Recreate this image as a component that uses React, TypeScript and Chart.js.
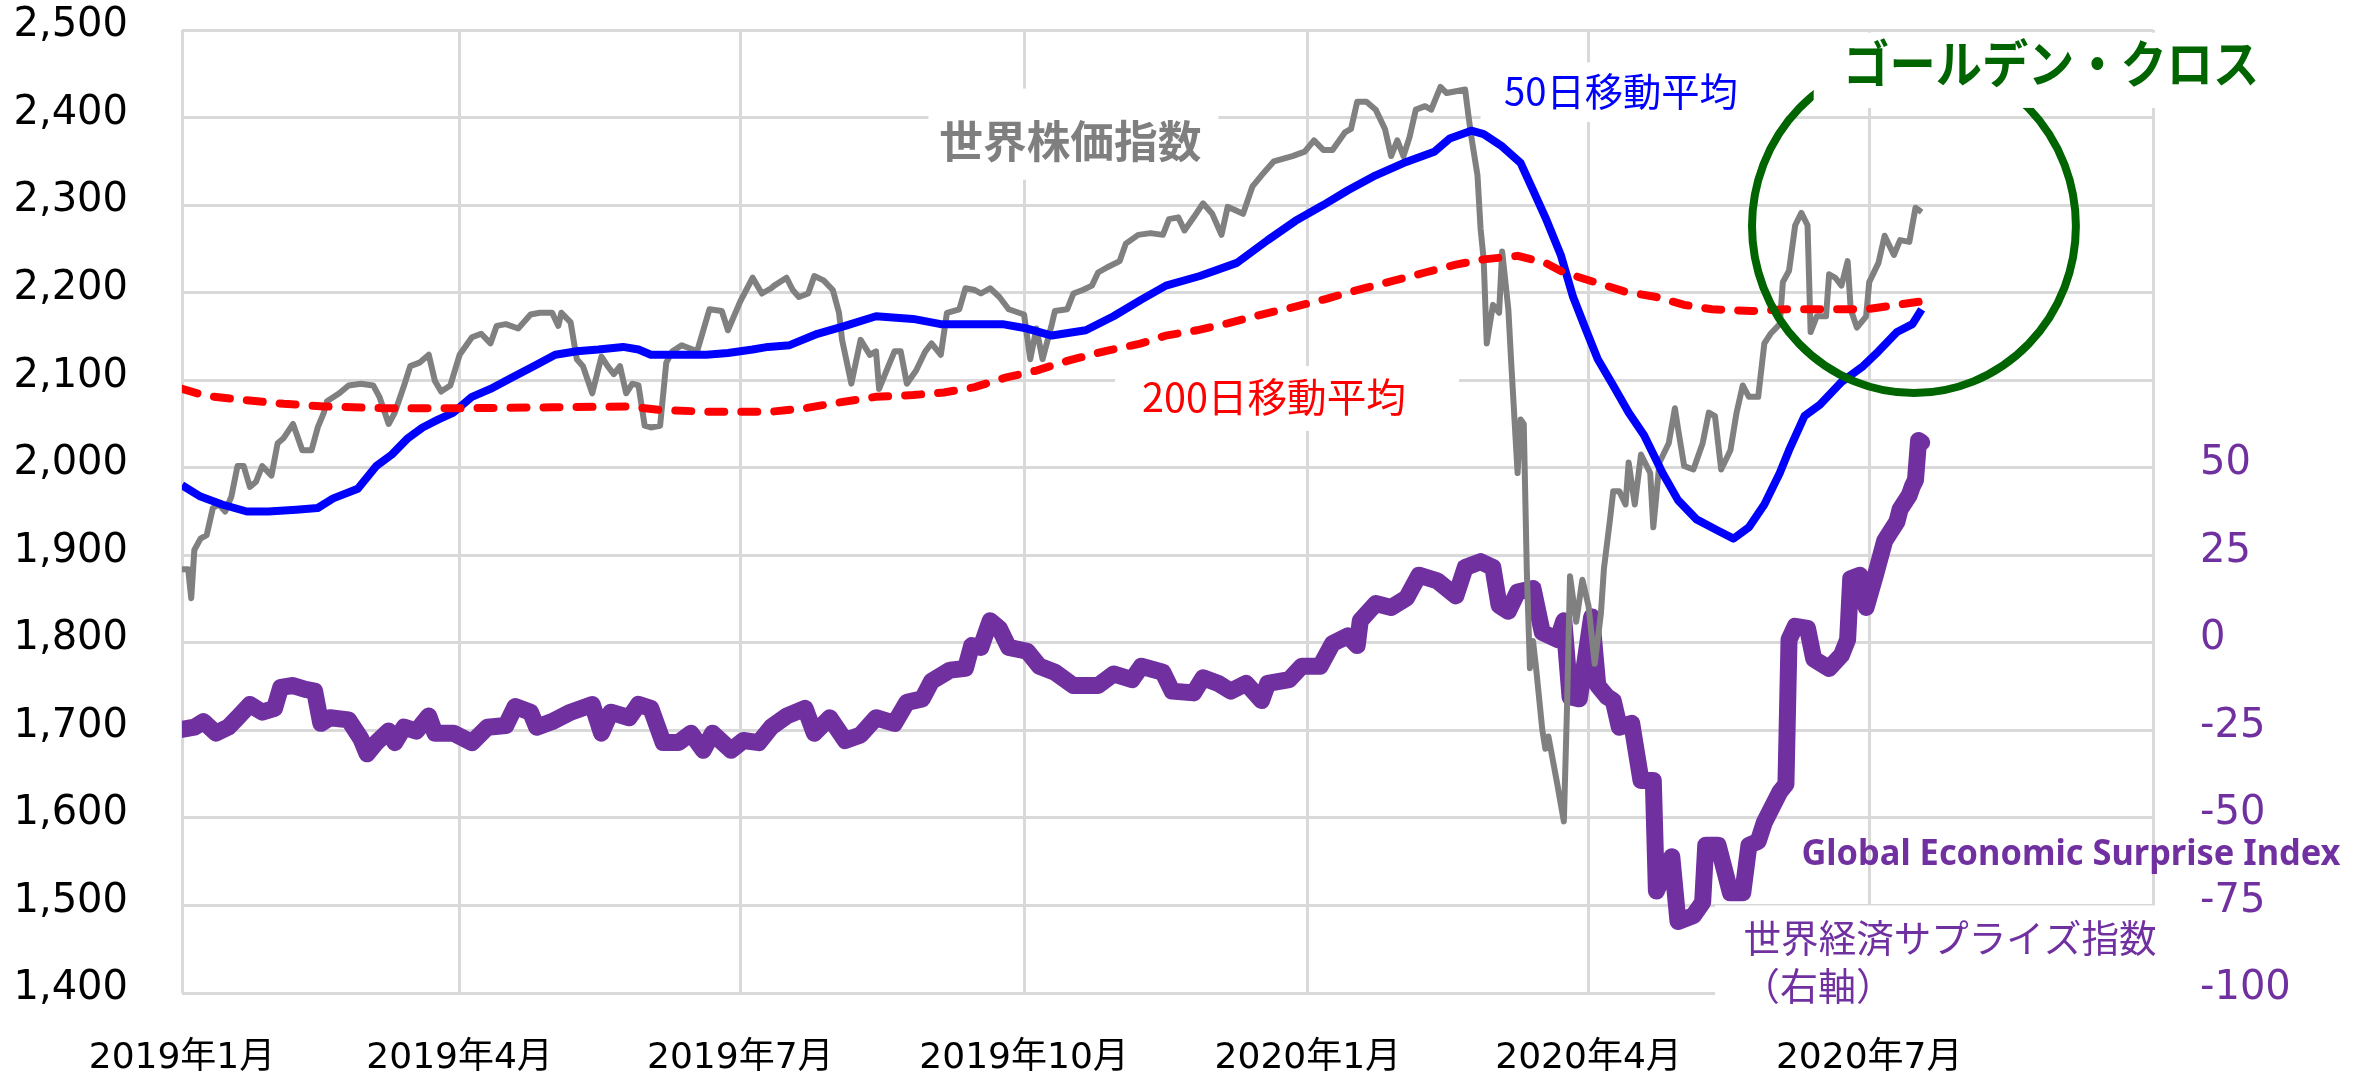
import React, { useEffect, useRef } from "react";
import { Chart, registerables } from "chart.js";

Chart.register(...registerables);

const WIDTH = 2369;
const HEIGHT = 1074;

// x axis: days since 2019-01-01
const monthTickDays = [0, 90, 181, 273, 365, 456, 547, 639];
const monthTickLabels = ["2019年1月", "2019年4月", "2019年7月", "2019年10月", "2020年1月", "2020年4月", "2020年7月", ""];
const xMin = 0;
const xMax = 639;

const leftMin = 1400;
const leftMax = 2500;
const leftStep = 100;
const rightMin = -100;
const rightMax = 175;
const rightTickValues = [-100, -75, -50, -25, 0, 25, 50];

// 世界株価指数
const stockDays = [
  0, 2, 3, 4, 6, 8, 10, 12, 14, 16,
  18, 20, 22, 24, 26, 29, 31, 33, 36, 39,
  42, 44, 46, 47, 51, 54, 58, 62, 64, 67,
  69, 72, 74, 77, 80, 82, 84, 87, 90, 94,
  97, 100, 102, 105, 109, 113, 116, 120, 122, 123,
  126, 128, 130, 133, 136, 138, 140, 142, 144, 146,
  148, 150, 152, 155, 157, 159, 162, 167, 171, 175,
  177, 181, 185, 188, 191, 192, 196, 198, 200, 203,
  205, 208, 211, 213, 214, 217, 220, 223, 225, 226,
  229, 231, 233, 235, 238, 241, 243, 246, 248, 252,
  254, 257, 259, 262, 265, 268, 273, 275, 277, 279,
  282, 283, 287, 289, 292, 295, 297, 300, 304, 306,
  310, 314, 318, 320, 323, 325, 328, 331, 334, 337,
  339, 344, 347, 350, 354, 360, 364, 367, 370, 373,
  377, 379, 381, 384, 387, 390, 392, 394, 396, 398,
  400, 403, 405, 408, 410, 413, 416, 417, 418, 420,
  421, 422, 423, 425, 427, 428, 430, 431, 433, 434,
  435, 436, 437, 438, 439, 441, 442, 443, 446, 448,
  449, 450, 452, 454, 456, 458, 460, 461, 463, 464,
  466, 468, 469, 471, 473, 476, 477, 479, 482, 484,
  485, 487, 490, 493, 495, 497, 499, 502, 504, 506,
  508, 511, 513, 515, 518, 519, 521, 523, 525, 527,
  528, 530, 533, 534, 536, 538, 540, 541, 543, 546,
  547, 550, 552, 555, 557, 560, 562, 564,
];
const stockValues = [
  1884, 1884, 1851, 1906, 1919, 1923, 1954, 1958, 1950, 1967,
  2002, 2002, 1978, 1984, 2002, 1991, 2028, 2034, 2050, 2020,
  2020, 2046, 2063, 2076, 2085, 2094, 2096, 2094, 2081, 2050,
  2063, 2094, 2116, 2120, 2129, 2099, 2087, 2094, 2129, 2149,
  2153, 2142, 2162, 2164, 2159, 2175, 2177, 2177, 2162, 2177,
  2166, 2124, 2116, 2085, 2127, 2116, 2107, 2116, 2085, 2096,
  2094, 2048, 2046, 2048, 2120, 2133, 2140, 2133, 2181, 2179,
  2157, 2190, 2217, 2199, 2205, 2208, 2217, 2203, 2195, 2199,
  2219, 2214, 2203, 2177, 2146, 2096, 2146, 2129, 2133, 2090,
  2116, 2133, 2133, 2096, 2111, 2133, 2142, 2129, 2177, 2181,
  2205, 2203, 2199, 2205, 2195, 2181, 2175, 2124, 2159, 2124,
  2164, 2179, 2181, 2199, 2203, 2208, 2223, 2229, 2236, 2256,
  2266, 2268, 2266, 2284, 2286, 2271, 2286, 2302, 2290, 2266,
  2298, 2290, 2321, 2334, 2350, 2356, 2361, 2374, 2363, 2363,
  2383, 2387, 2418, 2418, 2409, 2387, 2356, 2374, 2356, 2378,
  2409, 2413, 2409, 2435, 2428, 2430, 2432, 2404, 2378, 2334,
  2273, 2238, 2142, 2186, 2177, 2247, 2181, 2116, 1994, 2055,
  2050, 1881, 1771, 1802, 1771, 1701, 1679, 1693, 1636, 1596,
  1723, 1876, 1824, 1872, 1842, 1776, 1833, 1885, 1942, 1973,
  1973, 1958, 2006, 1958, 2015, 1994, 1932, 2006, 2028, 2068,
  2045, 2002, 1998, 2028, 2063, 2059, 1998, 2020, 2063, 2094,
  2081, 2081, 2142, 2153, 2164, 2212, 2225, 2277, 2291, 2277,
  2155, 2173, 2173, 2221, 2217, 2208, 2236, 2181, 2160, 2173,
  2212, 2234, 2265, 2243, 2260, 2258, 2297, 2292,
];

// 50日移動平均
const ma50Days = [
  0, 6, 13, 21, 28, 37, 44, 49, 57, 63,
  68, 73, 78, 83, 88, 94, 100, 107, 114, 121,
  128, 135, 143, 148, 152, 160, 170, 177, 185, 190,
  197, 206, 215, 225, 237, 246, 266, 274, 282, 293,
  302, 311, 319, 330, 342, 352, 361, 370, 378, 387,
  396, 406, 411, 418, 422, 428, 434, 438, 442, 447,
  451, 455, 459, 464, 469, 474, 480, 485, 491, 498,
  503, 508, 513, 518, 521, 526, 531, 538, 545, 550,
  556, 561, 564,
];
const ma50Values = [
  1980, 1967, 1958, 1950, 1950, 1952, 1954, 1965, 1976, 2002,
  2015, 2033, 2046, 2055, 2063, 2081, 2090, 2103, 2116, 2129,
  2133, 2135, 2138, 2135, 2129, 2129, 2129, 2131, 2135, 2138,
  2140, 2153, 2162, 2173, 2170, 2164, 2164, 2159, 2151, 2157,
  2173, 2192, 2208, 2219, 2234, 2260, 2282, 2300, 2317, 2334,
  2348, 2361, 2376, 2385, 2381, 2367, 2348, 2317, 2286, 2243,
  2195, 2159, 2124, 2094, 2063, 2037, 1994, 1963, 1941, 1928,
  1919, 1932, 1958, 1994, 2020, 2059, 2072, 2098, 2116, 2133,
  2155, 2164, 2181,
];

// 200日移動平均
const ma200Days = [
  0, 8, 21, 33, 46, 65, 90, 120, 145, 155,
  170, 191, 202, 212, 225, 237, 247, 257, 267, 277,
  287, 299, 311, 319, 329, 339, 350, 361, 371, 379,
  391, 403, 413, 422, 433, 442, 448, 458, 468, 478,
  487, 496, 509, 521, 534, 546, 556, 564,
];
const ma200Values = [
  2090, 2082, 2077, 2073, 2070, 2068, 2068, 2069, 2070, 2066,
  2064, 2064, 2068, 2074, 2081, 2083, 2086, 2092, 2103, 2111,
  2122, 2133, 2142, 2151, 2157, 2165, 2175, 2184, 2193, 2201,
  2212, 2223, 2232, 2238, 2242, 2234, 2223, 2212, 2201, 2195,
  2186, 2181, 2179, 2181, 2181, 2181, 2186, 2190,
];

// 世界経済サプライズ指数（右軸）
const surpriseDays = [
  0, 4, 7, 11, 15, 18, 22, 26, 30, 32,
  36, 40, 43, 45, 48, 54, 58, 60, 63, 67,
  69, 72, 76, 80, 82, 88, 94, 99, 105, 108,
  113, 115, 120, 126, 133, 136, 139, 145, 148, 152,
  156, 161, 165, 169, 172, 178, 182, 187, 191, 196,
  202, 205, 210, 215, 220, 225, 231, 235, 240, 243,
  249, 254, 256, 259, 262, 265, 268, 274, 278, 283,
  289, 297, 302, 308, 311, 318, 321, 328, 331, 336,
  340, 345, 350, 352, 359, 363, 369, 373, 378, 381,
  382, 387, 392, 397, 401, 407, 413, 416, 421, 425,
  427, 430, 433, 438, 441, 446, 448, 450, 453, 455,
  457, 459, 462, 464, 466, 470, 473, 477, 478, 483,
  485, 490, 493, 494, 498, 502, 506, 508, 511, 513,
  518, 520, 521, 523, 527, 529, 534, 538, 540, 541,
  544, 546, 549, 552, 556, 557, 560, 561, 562, 563,
  564,
];
const surpriseValues = [
  -24.7, -24.1, -22.5, -25.8, -24.1, -21.4, -17.6, -19.8, -18.7, -12.7,
  -12.2, -13.3, -13.8, -23, -21.4, -22, -27.4, -31.7, -28.5, -25.2,
  -28.5, -24.1, -25.2, -20.9, -25.8, -25.8, -28.5, -24.1, -23.6, -18.2,
  -19.8, -24.1, -22.5, -19.8, -17.6, -25.8, -19.8, -21.4, -17.6, -18.7,
  -28.5, -28.5, -25.8, -30.7, -25.8, -30.7, -27.9, -28.5, -24.1, -20.9,
  -18.7, -25.8, -21.4, -27.9, -26.3, -21.4, -23, -17, -16, -11,
  -7.8, -7.3, -0.8, -1.3, 6.3, 4.1, -1.3, -2.4, -6.7, -8.4,
  -12.2, -12.2, -8.9, -10.5, -6.7, -8.4, -13.8, -14.3, -10, -11.6,
  -13.8, -11.6, -16.5, -11.6, -10.5, -6.7, -6.7, -0.2, 2, -0.8,
  6.3, 11.2, 10.1, 12.8, 19.3, 17.7, 13.4, 21.5, 23.2, 21.5,
  10.7, 9, 14.5, 15.5, 3, 0.9, 6.3, -15.4, -16, -4.6,
  7.4, -12.2, -15.4, -16.5, -24.1, -23, -39.3, -39.3, -70.9, -61.1,
  -79.6, -77.9, -74.1, -57.8, -57.8, -71.4, -71.4, -57.8, -56.7, -51.3,
  -42.6, -40.4, 0.9, 4.7, 4.1, -4.6, -7.3, -3.5, 0.9, 18.3,
  19.3, 10.1, 19.3, 29.1, 34.6, 38.1, 42.2, 44.7, 46.5, 57.8,
  57.2,
];

// annotation anchors (day, left-axis value)
const CJK = '"Noto Sans CJK JP", sans-serif';
const annotationTexts = [
  { text: "世界株価指数", day: 288, value: 2373, font: `bold 44px ${CJK}`, color: "#7f7f7f", maxWidth: 262, baseline: "middle" },
  { text: "50日移動平均", day: 466.5, value: 2430, font: `39px ${CJK}`, color: "#0000ff", maxWidth: 234, baseline: "middle" },
  { text: "200日移動平均", day: 354, value: 2081, font: `40px ${CJK}`, color: "#ff0000", maxWidth: 264, baseline: "middle" },
  { text: "Global Economic Surprise Index", day: 612.4, value: 1546, font: 'bold 35px "Noto Sans", sans-serif', color: "#7030a0", maxWidth: 539, baseline: "alphabetic" },
  { text: "世界経済サプライズ指数", day: 573.2, value: 1463, font: `38px ${CJK}`, color: "#7030a0", maxWidth: 413, baseline: "middle" },
  { text: "（右軸）", day: 530.4, value: 1408, font: `38px ${CJK}`, color: "#7030a0", maxWidth: 0, baseline: "middle" },
];
const goldenText = { text: "ゴールデン・クロス", day: 606, value: 2462, font: `bold 51px ${CJK}`, color: "#006400", maxWidth: 416 };
const goldenEllipse = { day: 561.5, value: 2276, rxDays: 52.5, ryValue: 190.7 };
// white backgrounds of text boxes: [day1, value1, day2, value2]
const maskBoxes = [
  [242, 2433, 336, 2329],
  [302.5, 2116, 414, 2042],
  [421, 2463, 520, 2395],
  [497, 1500, 642, 1375],
];
const goldenBox = [529, 2497, 678, 2411];

const pts = (xs: number[], ys: number[]) =>
  xs.slice(0, Math.min(xs.length, ys.length)).map((x, i) => ({ x, y: ys[i] }));

const fillBox = (chart: any, b: number[]) => {
  const { ctx, scales } = chart;
  const x1 = scales.x.getPixelForValue(b[0]);
  const x2 = scales.x.getPixelForValue(b[2]);
  const y1 = scales.y.getPixelForValue(b[1]);
  const y2 = scales.y.getPixelForValue(b[3]);
  ctx.fillStyle = "#ffffff";
  ctx.fillRect(Math.min(x1, x2), Math.min(y1, y2), Math.abs(x2 - x1), Math.abs(y2 - y1));
};

const overlayPlugin = {
  id: "overlay",
  beforeDatasetsDraw(chart: any) {
    const { ctx } = chart;
    ctx.save();
    for (const b of maskBoxes) fillBox(chart, b);
    ctx.restore();
  },
  afterDatasetsDraw(chart: any) {
    const { ctx, scales } = chart;
    const sx = scales.x;
    const sy = scales.y;
    ctx.save();
    const cx = sx.getPixelForValue(goldenEllipse.day);
    const cy = sy.getPixelForValue(goldenEllipse.value);
    const rx = Math.abs(sx.getPixelForValue(goldenEllipse.day + goldenEllipse.rxDays) - cx);
    const ry = Math.abs(sy.getPixelForValue(goldenEllipse.value + goldenEllipse.ryValue) - cy);
    ctx.beginPath();
    ctx.ellipse(cx, cy, rx, ry, 0, 0, Math.PI * 2);
    ctx.strokeStyle = "#006400";
    ctx.lineWidth = 8;
    ctx.stroke();
    fillBox(chart, goldenBox);
    ctx.textAlign = "center";
    ctx.textBaseline = "middle";
    ctx.font = goldenText.font;
    ctx.fillStyle = goldenText.color;
    ctx.fillText(goldenText.text, sx.getPixelForValue(goldenText.day), sy.getPixelForValue(goldenText.value), goldenText.maxWidth);
    for (const t of annotationTexts) {
      ctx.font = t.font;
      ctx.fillStyle = t.color;
      ctx.textBaseline = t.baseline as CanvasTextBaseline;
      const px = sx.getPixelForValue(t.day);
      const py = sy.getPixelForValue(t.value);
      if (t.maxWidth > 0) ctx.fillText(t.text, px, py, t.maxWidth);
      else ctx.fillText(t.text, px, py);
    }
    ctx.restore();
  },
};

export default function App() {
  const ref = useRef<HTMLCanvasElement>(null);
  useEffect(() => {
    document.body.style.margin = "0";
    const canvas = ref.current;
    if (!canvas) return;
    const family = "'DejaVu Sans', 'Noto Sans CJK JP', sans-serif";
    const xFont = { family, size: 36 };
    const yFont = { family, size: 40 };
    const grid = { color: "#d9d9d9", lineWidth: 3, drawTicks: false };
    const chart = new Chart(canvas, {
      type: "line",
      data: {
        datasets: [
          {
            label: "200日移動平均",
            data: pts(ma200Days, ma200Values),
            borderColor: "#ff0000",
            borderWidth: 8,
            borderDash: [16, 17],
            borderCapStyle: "round",
            pointRadius: 0,
            tension: 0,
            yAxisID: "y",
            order: 1,
          },
          {
            label: "50日移動平均",
            data: pts(ma50Days, ma50Values),
            borderColor: "#0000ff",
            borderWidth: 8,
            borderJoinStyle: "round",
            pointRadius: 0,
            tension: 0,
            yAxisID: "y",
            order: 2,
          },
          {
            label: "世界株価指数",
            data: pts(stockDays, stockValues),
            borderColor: "#808080",
            borderWidth: 6,
            borderJoinStyle: "round",
            pointRadius: 0,
            tension: 0,
            yAxisID: "y",
            order: 3,
          },
          {
            label: "世界経済サプライズ指数",
            data: pts(surpriseDays, surpriseValues),
            borderColor: "#7030a0",
            borderWidth: 17,
            borderJoinStyle: "round",
            borderCapStyle: "round",
            pointRadius: 0,
            tension: 0,
            yAxisID: "y2",
            order: 4,
          },
        ],
      },
      options: {
        animation: false,
        responsive: false,
        maintainAspectRatio: false,
        devicePixelRatio: 1,
        layout: { padding: { top: 30, left: 0, right: 0, bottom: 0 } },
        plugins: { legend: { display: false }, tooltip: { enabled: false }, title: { display: false } },
        scales: {
          x: {
            type: "linear",
            min: xMin,
            max: xMax,
            grid,
            border: { display: false },
            afterBuildTicks: (s: any) => {
              s.ticks = monthTickDays.map((v) => ({ value: v }));
            },
            afterFit: (s: any) => {
              s.height = 81;
              s.paddingLeft = 0;
              s.paddingRight = 0;
            },
            ticks: {
              autoSkip: false,
              maxRotation: 0,
              padding: 44,
              color: "#000000",
              font: xFont,
              callback: (_v: any, i: number) => monthTickLabels[i] ?? "",
            },
          },
          y: {
            type: "linear",
            position: "left",
            min: leftMin,
            max: leftMax,
            grid,
            border: { display: false },
            afterFit: (s: any) => {
              s.width = 182;
              s.paddingTop = 0;
              s.paddingBottom = 0;
            },
            ticks: {
              stepSize: leftStep,
              padding: 54,
              labelOffset: -4,
              color: "#000000",
              font: yFont,
              callback: (v: any) => Number(v).toLocaleString("en-US"),
            },
          },
          y2: {
            type: "linear",
            position: "right",
            min: rightMin,
            max: rightMax,
            grid: { display: false, drawTicks: false },
            border: { display: false },
            afterBuildTicks: (s: any) => {
              s.ticks = rightTickValues.map((v) => ({ value: v }));
            },
            afterFit: (s: any) => {
              s.width = WIDTH - 2153;
              s.paddingTop = 0;
              s.paddingBottom = 0;
            },
            ticks: {
              padding: 47,
              labelOffset: -4,
              color: "#7030a0",
              font: yFont,
              callback: (v: any) => String(v),
            },
          },
        },
      },
      plugins: [overlayPlugin],
    } as any);
    return () => chart.destroy();
  }, []);
  return (
    <div style={{ width: WIDTH, height: HEIGHT, background: "#ffffff" }}>
      <canvas ref={ref} width={WIDTH} height={HEIGHT} style={{ width: WIDTH, height: HEIGHT, display: "block" }} />
    </div>
  );
}
